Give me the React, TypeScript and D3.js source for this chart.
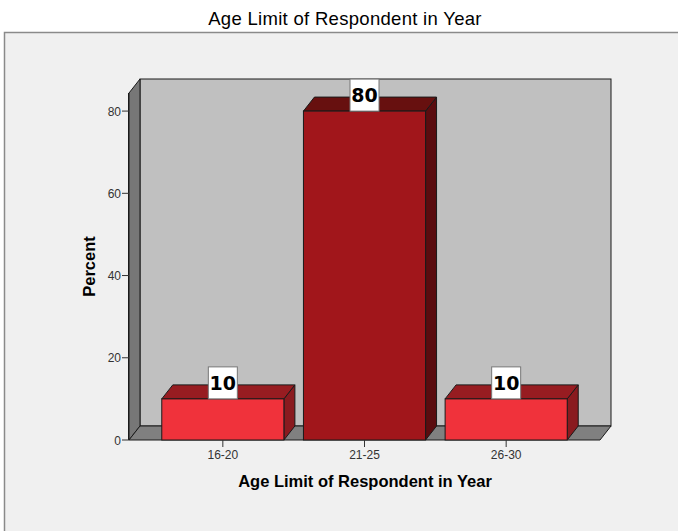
import React from "react";
import * as d3 from "d3";

const categories = ["16-20", "21-25", "26-30"];
const percents = [10, 80, 10];
const yTicks = [0, 20, 40, 60, 80];
const frontColors = ["#f0323b", "#a1161b", "#f0323b"];
const topColors = ["#971c21", "#67100f", "#971c21"];
const sideColors = ["#8a1a1f", "#5a0c0f", "#8a1a1f"];

const W = 678;
const H = 531;
const DX = 11; // depth offset in x
const DY = 14; // depth offset in y

export default function App() {
  const left = 129;
  const right = 600;
  const y = d3.scaleLinear().domain([0, 84.4]).range([440, 93]);
  const x = d3
    .scaleBand<string>()
    .domain(categories)
    .range([152, 577])
    .paddingInner(0.138)
    .paddingOuter(0.069);
  const y0 = y(0);
  const yTop = y(84.4);
  const pts = (a: number[][]) => a.map((p) => p.join(",")).join(" ");
  const stroke = "#1a1a1a";

  return (
    <svg
      width={W}
      height={H}
      style={{ position: "absolute", left: 0, top: 0, background: "#ffffff" }}
      fontFamily="'Liberation Sans', Arial, sans-serif"
    >
      <rect x={4.5} y={32.5} width={700} height={520} fill="#f0f0f0" stroke="#8a8a8a" strokeWidth={1.5} />
      <text x={345} y={25} textAnchor="middle" fontSize={18.5} fill="#000" letterSpacing={0.3}>
        Age Limit of Respondent in Year
      </text>

      {/* back wall */}
      <rect
        x={left + DX}
        y={yTop - DY}
        width={right - left}
        height={y0 - yTop}
        fill="#c0c0c0"
        stroke={stroke}
        strokeWidth={1}
      />
      {/* side wall */}
      <polygon
        points={pts([
          [left, yTop],
          [left + DX, yTop - DY],
          [left + DX, y0 - DY],
          [left, y0],
        ])}
        fill="#777777"
        stroke={stroke}
        strokeWidth={1}
      />
      {/* floor */}
      <polygon
        points={pts([
          [left, y0],
          [left + DX, y0 - DY],
          [right + DX, y0 - DY],
          [right, y0],
        ])}
        fill="#808080"
        stroke={stroke}
        strokeWidth={1}
      />

      {/* y axis */}
      <line x1={left - 0.5} x2={left - 0.5} y1={yTop} y2={y0} stroke={stroke} />
      {yTicks.map((t) => (
        <g key={t}>
          <line x1={left - 7} x2={left} y1={y(t)} y2={y(t)} stroke="#333" />
          <text x={left - 8} y={y(t) + 4.5} textAnchor="end" fontSize={12} fill="#333">
            {t}
          </text>
        </g>
      ))}
      <text
        transform={`translate(95,${(y0 + yTop) / 2}) rotate(-90)`}
        textAnchor="middle"
        fontSize={16.5}
        fontWeight="bold"
        fill="#000"
      >
        Percent
      </text>

      {/* bars */}
      {categories.map((c, i) => {
        const x0 = x(c)!;
        const x1 = x0 + x.bandwidth();
        const yv = y(percents[i]);
        const cx = x0 + x.bandwidth() / 2;
        return (
          <g key={c}>
            <polygon
              points={pts([
                [x1, yv],
                [x1 + DX, yv - DY],
                [x1 + DX, y0 - DY],
                [x1, y0],
              ])}
              fill={sideColors[i]}
              stroke={stroke}
            />
            <polygon
              points={pts([
                [x0, yv],
                [x0 + DX, yv - DY],
                [x1 + DX, yv - DY],
                [x1, yv],
              ])}
              fill={topColors[i]}
              stroke={stroke}
            />
            <rect x={x0} y={yv} width={x1 - x0} height={y0 - yv} fill={frontColors[i]} stroke={stroke} />
            <rect x={cx - 14.5} y={yv - 32} width={29} height={32} fill="#ffffff" stroke="#777" />
            <text
              x={cx}
              y={yv - 9}
              textAnchor="middle"
              fontSize={19}
              fontWeight="bold"
              fontFamily="'DejaVu Sans', Verdana, sans-serif"
              fill="#000"
            >
              {percents[i]}
            </text>
          </g>
        );
      })}

      {/* x axis */}
      {categories.map((c) => {
        const cx = x(c)! + x.bandwidth() / 2;
        return (
          <g key={c}>
            <line x1={cx} x2={cx} y1={y0} y2={y0 + 7} stroke="#333" />
            <text x={cx} y={y0 + 19} textAnchor="middle" fontSize={12} fill="#333">
              {c}
            </text>
          </g>
        );
      })}
      <text x={365} y={487} textAnchor="middle" fontSize={16.5} fontWeight="bold" fill="#000">
        Age Limit of Respondent in Year
      </text>
    </svg>
  );
}
